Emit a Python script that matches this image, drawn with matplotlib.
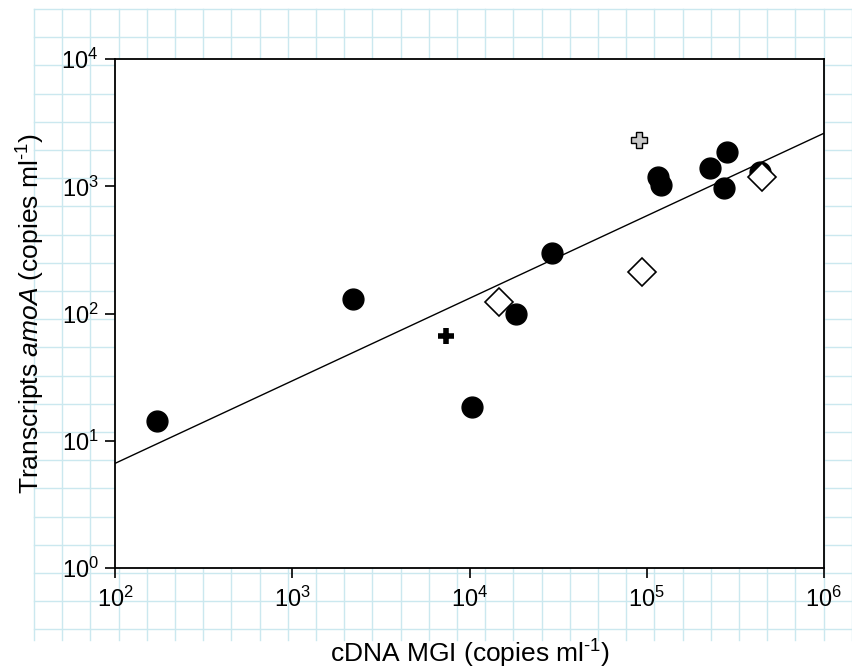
import matplotlib
matplotlib.use("Agg")
import matplotlib.pyplot as plt
import numpy as np
from matplotlib.lines import Line2D

plt.rcParams['font.family'] = ['Liberation Sans', 'DejaVu Sans']
plt.rcParams['mathtext.fontset'] = 'custom'
plt.rcParams['mathtext.rm'] = 'Liberation Sans'
plt.rcParams['mathtext.it'] = 'Liberation Sans:italic'
plt.rcParams['mathtext.bf'] = 'Liberation Sans:bold'

# ---- data ----
circle_x = [173, 2190, 29000, 10250, 115900, 119700, 227000, 283000, 271000, 436500]
circle_y = [14.4, 131, 298, 18.6, 1178, 1020, 1403, 1874, 966, 1304]
circle2_x = [18300]
circle2_y = [100]
diamond_x = [14700, 93700, 444500]
diamond_y = [123, 214, 1178]
plus_black_x = [7330]
plus_black_y = [66.8]
plus_gray_x = [90200]
plus_gray_y = [2314]
fit_slope = 0.648
fit_intercept = -0.471   # log10(y) = intercept + slope*log10(x)
fit_xrange = [1e2, 1e6]

xticks = [1e2, 1e3, 1e4, 1e5, 1e6]
xtick_labels = [r'$10^{2}$', r'$10^{3}$', r'$10^{4}$', r'$10^{5}$', r'$10^{6}$']
yticks = [1e0, 1e1, 1e2, 1e3, 1e4]
ytick_labels = [r'$10^{0}$', r'$10^{1}$', r'$10^{2}$', r'$10^{3}$', r'$10^{4}$']

W, H = 853, 669
fig = plt.figure(figsize=(W / 100, H / 100), dpi=100)

# graph-paper background
gcol = '#cbe8ef'
step = 28.2
gx0, gx1, gy0, gy1 = 34, 853, 9, 640
k = 0
while gx0 + k * step <= gx1 + 0.5:
    x = (gx0 + k * step) / W
    fig.add_artist(Line2D([x, x], [1 - gy0 / H, 1 - gy1 / H], transform=fig.transFigure,
                          color=gcol, lw=1.0, zorder=0))
    k += 1
k = 0
while gy0 + k * step <= gy1:
    y = 1 - (gy0 + k * step) / H
    fig.add_artist(Line2D([gx0 / W, gx1 / W], [y, y], transform=fig.transFigure,
                          color=gcol, lw=1.0, zorder=0))
    k += 1

ax = fig.add_axes([115.3 / W, 1 - 568.3 / H, (824 - 115.3) / W, (568.3 - 59) / H])
ax.set_zorder(2)
ax.set_facecolor('white')
ax.set_xscale('log')
ax.set_yscale('log')
ax.set_xlim(1e2, 1e6)
ax.set_ylim(1e0, 1e4)

fx = np.array(fit_xrange)
fy = 10 ** (fit_intercept + fit_slope * np.log10(fx))
ax.plot(fx, fy, color='black', lw=1.0, zorder=2)

ax.plot(circle_x, circle_y, 'o', color='black', ms=15, zorder=3, linestyle='none')
ax.plot(diamond_x, diamond_y, 'D', mfc='white', mec='black', mew=1.2, ms=14,
        zorder=4, linestyle='none')
ax.plot(circle2_x, circle2_y, 'o', color='black', ms=15, zorder=5, linestyle='none')
ax.plot(plus_black_x, plus_black_y, '+', color='black', ms=11.5, mew=4, zorder=5,
        linestyle='none')
ax.plot(plus_gray_x, plus_gray_y, 'P', mfc='#c8c8c8', mec='black', mew=1.0, ms=11,
        zorder=5, linestyle='none')

ax.set_xticks(xticks)
ax.set_xticklabels(xtick_labels)
ax.set_yticks(yticks)
ax.set_yticklabels(ytick_labels)
ax.minorticks_off()
ax.tick_params(axis='both', which='major', direction='out', length=7, width=1.2,
               labelsize=17, color='black')
ax.tick_params(axis='x', pad=6)
ax.tick_params(axis='y', pad=5)
for s in ax.spines.values():
    s.set_linewidth(1.3)
    s.set_color('black')

ax.set_xlabel('cDNA MGI (copies ml$^{\u20101}$)', fontsize=19, labelpad=19)
ax.set_ylabel('Transcripts $\\it{amoA}$ (copies ml$^{\u20101}$)', fontsize=19, labelpad=10)

fig.savefig('out.png', dpi=100)
